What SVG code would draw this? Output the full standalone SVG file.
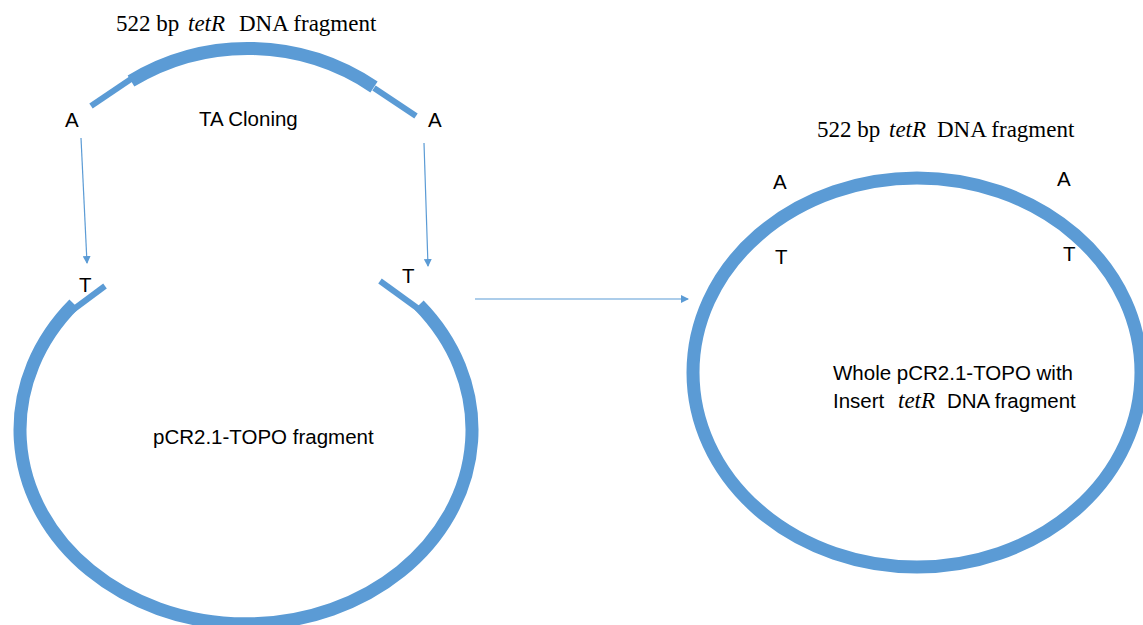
<svg xmlns="http://www.w3.org/2000/svg" width="1143" height="625" viewBox="0 0 1143 625">
  <defs>
    <style>
      .dna { fill: none; stroke: #5B9BD5; stroke-width: 13; stroke-linecap: butt; }
      .thin { fill: none; stroke: #5B9BD5; stroke-width: 6; stroke-linecap: butt; }
      .conn { fill: none; stroke: #5B9BD5; stroke-width: 1.2; }
      .sans { font-family: "Liberation Sans", Arial, sans-serif; font-size: 20.5px; fill: #000; }
      .serif { font-family: "Liberation Serif", "Times New Roman", serif; font-size: 23px; fill: #000; }
      .it { font-style: italic; }
    </style>
    <marker id="arrow" markerWidth="8" markerHeight="8" refX="7" refY="4" orient="auto" markerUnits="userSpaceOnUse">
      <path d="M0,0 L8,4 L0,8 Z" fill="#5B9BD5"/>
    </marker>
  </defs>
  <rect width="1143" height="625" fill="#fff"/>

  <g id="tetR-fragment">
    <path class="dna" d="M131,81 A226,226 0 0,1 374,87"/>
    <line class="thin" x1="91" y1="106" x2="131" y2="79"/>
    <line class="thin" x1="374" y1="88" x2="416" y2="116"/>
    <text class="serif" y="31"><tspan x="116">522 bp</tspan><tspan x="188" class="it">tetR</tspan><tspan x="239">DNA fragment</tspan></text>
    <text class="sans" x="65" y="127">A</text>
    <text class="sans" x="428" y="127">A</text>
  </g>

  <g id="ta-cloning-label">
    <text class="sans" x="199" y="126">TA Cloning</text>
  </g>

  <g id="pcr-fragment">
    <path class="dna" d="M74,304 A226,194 0 1,0 419,305"/>
    <line class="thin" x1="70" y1="312" x2="105" y2="286"/>
    <line class="thin" x1="380" y1="281" x2="420" y2="310"/>
    <text class="sans" x="79" y="292">T</text>
    <text class="sans" x="402" y="283">T</text>
    <text class="sans" x="153" y="444">pCR2.1-TOPO fragment</text>
  </g>

  <g id="recombinant-plasmid">
    <ellipse class="dna" cx="917" cy="372.5" rx="224" ry="194.5"/>
    <text class="serif" y="137"><tspan x="817">522 bp</tspan><tspan x="889" class="it">tetR</tspan><tspan x="937">DNA fragment</tspan></text>
    <text class="sans" x="773" y="189">A</text>
    <text class="sans" x="1057" y="186">A</text>
    <text class="sans" x="775" y="264">T</text>
    <text class="sans" x="1063" y="261">T</text>
    <text class="sans" x="833" y="380">Whole pCR2.1-TOPO with</text>
    <text class="sans" y="408"><tspan x="833">Insert</tspan><tspan x="898" class="serif it">tetR</tspan><tspan x="947">DNA fragment</tspan></text>
  </g>

  <g id="connectors">
    <line class="conn" x1="81" y1="138" x2="87" y2="263" marker-end="url(#arrow)"/>
    <line class="conn" x1="424" y1="143" x2="428" y2="266" marker-end="url(#arrow)"/>
    <line class="conn" x1="475" y1="299" x2="688" y2="299" marker-end="url(#arrow)"/>
  </g>
</svg>
